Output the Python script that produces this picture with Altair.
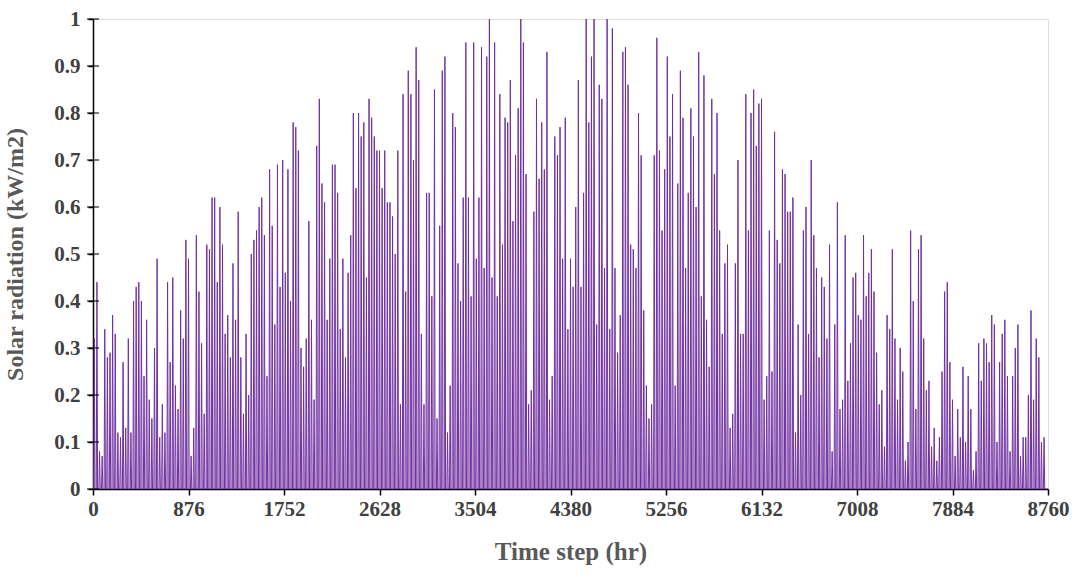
import altair as alt
import pandas as pd

# Daily peak solar radiation (kW/m2), one value per day
peaks_q1 = [0.32, 0.44, 0.08, 0.07, 0.34, 0.28, 0.29, 0.37, 0.33, 0.12, 0.11, 0.27, 0.13, 0.32, 0.12,
            0.40, 0.43, 0.44, 0.40, 0.24, 0.36, 0.19, 0.15, 0.30, 0.49, 0.11, 0.18, 0.12, 0.44,
            0.27, 0.45, 0.22, 0.17, 0.38, 0.32, 0.53, 0.49, 0.07, 0.13, 0.54, 0.42, 0.31, 0.16,
            0.52, 0.51, 0.62, 0.62, 0.44, 0.60, 0.52, 0.33, 0.37, 0.28, 0.48, 0.36, 0.59, 0.28, 0.16, 0.33,
            0.20, 0.50, 0.53, 0.55, 0.60, 0.62, 0.54, 0.24, 0.68, 0.56, 0.35, 0.69, 0.43, 0.70, 0.46,
            0.68, 0.40, 0.78, 0.77, 0.72, 0.30, 0.26, 0.32, 0.57, 0.36, 0.19, 0.73, 0.83, 0.65, 0.61]
peaks_q2 = [0.36, 0.49, 0.69, 0.69, 0.63, 0.34, 0.49, 0.28, 0.46, 0.54, 0.80, 0.64, 0.80, 0.75, 0.78,
            0.45, 0.83, 0.79, 0.75, 0.72, 0.72, 0.64, 0.72, 0.61, 0.61, 0.58, 0.50, 0.72, 0.18, 0.84, 0.42,
            0.89, 0.84, 0.70, 0.94, 0.87, 0.33, 0.18, 0.63, 0.63, 0.41, 0.85, 0.15, 0.56, 0.89, 0.92,
            0.12, 0.22, 0.80, 0.77, 0.48, 0.40, 0.62, 0.95, 0.62, 0.41, 0.95, 0.49, 0.62, 0.94, 0.47, 0.92,
            1.00, 0.45, 0.95, 0.41, 0.84, 0.52, 0.79, 0.78, 0.87, 0.57, 0.71, 0.81, 1.00, 0.95, 0.67,
            0.18, 0.21, 0.59, 0.83, 0.66, 0.78, 0.68, 0.93, 0.19, 0.24, 0.75, 0.71, 0.77, 0.49, 0.79]
peaks_q3 = [0.34, 0.49, 0.43, 0.60, 0.87, 0.43, 0.63, 1.00, 0.78, 0.92, 1.00, 0.35, 0.86, 0.83, 0.47,
            1.00, 0.34, 0.98, 0.47, 0.29, 0.37, 0.93, 0.94, 0.86, 0.52, 0.51, 0.47, 0.80, 0.71, 0.38,
            0.22, 0.15, 0.18, 0.71, 0.96, 0.72, 0.55, 0.68, 0.92, 0.75, 0.84, 0.22, 0.65, 0.89, 0.79,
            0.47, 0.63, 0.81, 0.75, 0.60, 0.93, 0.41, 0.88, 0.36, 0.26, 0.83, 0.67, 0.80, 0.55, 0.33, 0.48,
            0.52, 0.13, 0.16, 0.48, 0.70, 0.33, 0.33, 0.84, 0.55, 0.80, 0.85, 0.73, 0.82, 0.83, 0.19,
            0.24, 0.55, 0.25, 0.76, 0.53, 0.48, 0.68, 0.67, 0.59, 0.59, 0.62, 0.12, 0.35, 0.20, 0.55, 0.60]
peaks_q4 = [0.33, 0.70, 0.54, 0.47, 0.28, 0.45, 0.43, 0.32, 0.52, 0.08, 0.35, 0.61, 0.17, 0.19, 0.54,
            0.23, 0.31, 0.45, 0.46, 0.37, 0.36, 0.54, 0.41, 0.46, 0.51, 0.42, 0.29, 0.18, 0.21, 0.09, 0.37,
            0.34, 0.51, 0.32, 0.19, 0.30, 0.25, 0.06, 0.10, 0.55, 0.40, 0.17, 0.51, 0.54, 0.32, 0.21,
            0.23, 0.09, 0.13, 0.06, 0.11, 0.25, 0.42, 0.44, 0.27, 0.19, 0.07, 0.17, 0.11, 0.26, 0.10,
            0.24, 0.17, 0.04, 0.08, 0.31, 0.23, 0.32, 0.31, 0.27, 0.37, 0.35, 0.10, 0.27, 0.33, 0.36,
            0.24, 0.08, 0.24, 0.30, 0.35, 0.07, 0.11, 0.11, 0.20, 0.38, 0.19, 0.32, 0.28, 0.10, 0.11]
daily_peaks = peaks_q1 + peaks_q2 + peaks_q3 + peaks_q4

# hours of the day at which the profile is sampled (sunrise, noon, sunset) – night is zero
sunrise_hour, noon_hour, sunset_hour = 6, 12, 18
x_ticks = [0, 876, 1752, 2628, 3504, 4380, 5256, 6132, 7008, 7884, 8760]
y_ticks = [0, 0.1, 0.2, 0.3, 0.4, 0.5, 0.6, 0.7, 0.8, 0.9, 1.0]

rows = []
for d, p in enumerate(daily_peaks):
    base = d * 24
    rows.append({"hour": base + sunrise_hour, "rad": 0.0})
    rows.append({"hour": base + noon_hour, "rad": p})
    rows.append({"hour": base + sunset_hour, "rad": 0.0})
rows.append({"hour": 8760, "rad": 0.0})
df = pd.DataFrame(rows)
tick_df = pd.DataFrame({"y": y_ticks, "x": [0] * len(y_ticks)})

font = "Liberation Serif"
x_scale = alt.Scale(domain=[0, 8760], nice=False, zero=False)
y_scale = alt.Scale(domain=[0, 1], nice=False)

line = alt.Chart(df).mark_line(color="#7030A0", strokeWidth=1, clip=True).encode(
    x=alt.X("hour:Q", scale=x_scale,
            axis=alt.Axis(values=x_ticks, title="Time step (hr)", grid=False, format="d",
                          labelFont=font, labelFontSize=21, labelFontWeight="bold", labelColor="#404040",
                          titleFont=font, titleFontSize=25, titleFontWeight="bold", titleColor="#595959",
                          domainColor="black", tickColor="black", tickSize=6, labelPadding=3,
                          titlePadding=20, domainWidth=1.5, tickWidth=1.5, labelFlush=False)),
    y=alt.Y("rad:Q", scale=y_scale,
            axis=alt.Axis(values=y_ticks, title="Solar radiation (kW/m2)", grid=False, format="~g",
                          labelFont=font, labelFontSize=21, labelFontWeight="bold", labelColor="#404040",
                          titleFont=font, titleFontSize=24, titleFontWeight="bold", titleColor="#595959",
                          domainColor="black", tickColor="black", tickSize=5, labelPadding=8,
                          titlePadding=26, domainWidth=1.5, tickWidth=1.5)),
)

# inner half of the y ticks (reference ticks cross the axis line)
inner_ticks = alt.Chart(tick_df).mark_tick(orient="horizontal", size=12, thickness=1.5, color="black").encode(
    x=alt.X("x:Q", scale=x_scale),
    y=alt.Y("y:Q", scale=y_scale),
)

chart = alt.layer(line, inner_ticks).properties(
    width=955, height=470,
    autosize=alt.AutoSizeParams(type="none"),
    padding={"left": 93, "top": 19, "right": 28, "bottom": 89},
).configure_view(stroke=None).configure(background="white")

chart.save("out.html", embed_options={"renderer": "svg", "actions": False})
